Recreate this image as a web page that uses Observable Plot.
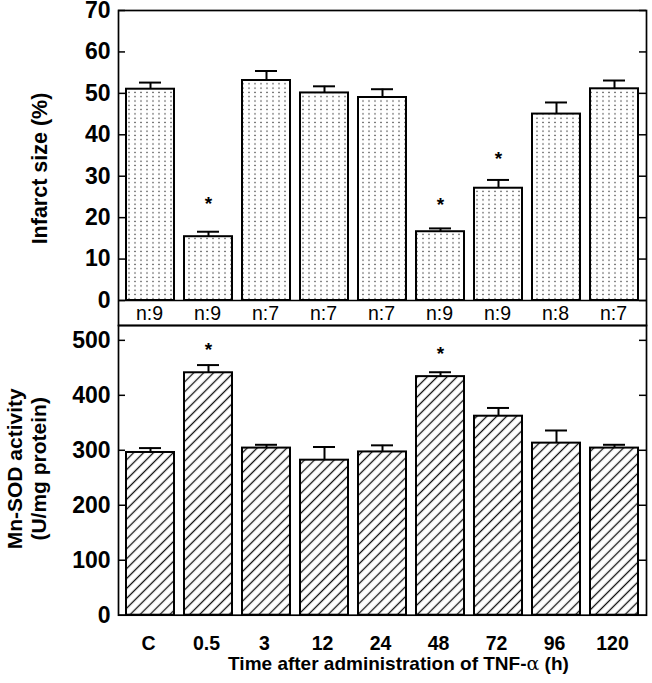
<!DOCTYPE html>
<html>
<head>
<meta charset="utf-8">
<script src="https://cdn.jsdelivr.net/npm/d3@7"></script>
<script src="https://cdn.jsdelivr.net/npm/@observablehq/plot@0.6"></script>
<style>
  body { margin: 0; background: white; }
  #wrap { position: relative; width: 652px; height: 683px; background: white; }
  #wrap > svg { position: absolute; left: 0; }
</style>
</head>
<body>
<svg width="0" height="0" style="position:absolute">
  <defs>
    <pattern id="dots" patternUnits="userSpaceOnUse" width="6" height="4.3">
      <rect width="6" height="4.3" fill="white"/>
      <rect x="2.4" y="1.5" width="1.2" height="1.2" fill="#1a1a1a"/>
    </pattern>
    <pattern id="hatch" patternUnits="userSpaceOnUse" width="7" height="10" patternTransform="rotate(45)">
      <rect width="7" height="10" fill="white"/>
      <line x1="3.5" y1="-1" x2="3.5" y2="11" stroke="#111" stroke-width="1.3"/>
    </pattern>
  </defs>
</svg>
<div id="wrap"></div>
<script>
// ---- data ----
const categories = ["C", "0.5", "3", "12", "24", "48", "72", "96", "120"];
const infarctSize = [51.0, 15.4, 53.1, 50.1, 49.0, 16.6, 27.1, 45.0, 51.1];
const infarctSem  = [1.6, 1.2, 2.3, 1.6, 2.0, 0.8, 2.0, 2.8, 2.0];
const nCounts     = [9, 9, 7, 7, 7, 9, 9, 8, 7];
const infarctStarCats = ["0.5", "48", "72"];
const infarctStarY    = [24.5, 24.2, 35.3];
const mnSod     = [296, 441, 304, 282, 297, 434, 362, 313, 304];
const mnSodSem  = [8, 14, 6, 24, 12, 8, 15, 23, 6];
const mnSodStarCats = ["0.5", "48"];
const mnSodStarY    = [492, 485];
const infarctTicks = [0, 10, 20, 30, 40, 50, 60, 70];
const mnSodTicks   = [0, 100, 200, 300, 400, 500];

const topData = categories.map((c, i) => ({cat: c, v: infarctSize[i], e: infarctSem[i], n: "n:" + nCounts[i]}));
const botData = categories.map((c, i) => ({cat: c, v: mnSod[i], e: mnSodSem[i]}));
const topStars = infarctStarCats.map((c, i) => ({cat: c, y: infarctStarY[i]}));
const botStars = mnSodStarCats.map((c, i) => ({cat: c, y: mnSodStarY[i]}));

const font = "'Liberation Sans', Arial, Helvetica, sans-serif";
const W = 652, ML = 118, MR = 6;
const frameW = W - ML - MR;
const tickLen = 7;
const xOpts = {domain: categories, paddingInner: 0.17, paddingOuter: 0.085};

const topPlot = Plot.plot({
  width: W, height: 327,
  marginLeft: ML, marginRight: MR, marginTop: 10, marginBottom: 27,
  x: {...xOpts, axis: null},
  y: {domain: [0, 70], axis: null},
  style: {fontFamily: font, background: "transparent", overflow: "visible"},
  marks: [
    Plot.barY(topData, {x: "cat", y: "v", fill: "url(#dots)", stroke: "black", strokeWidth: 2}),
    Plot.ruleX(topData, {x: "cat", y1: "v", y2: d => d.v + d.e, stroke: "black", strokeWidth: 2}),
    Plot.tickY(topData, {x: "cat", y: d => d.v + d.e, stroke: "black", strokeWidth: 2, insetLeft: 13, insetRight: 13}),
    Plot.text(topStars, {x: "cat", y: "y", text: () => "*", fontSize: 19, fontWeight: "bold", dy: 5}),
    Plot.text(topData, {x: "cat", y: () => 0, text: "n", fontSize: 19.5, dy: 13, dx: -1}),
    Plot.ruleY([0], {stroke: "black", strokeWidth: 1.7}),
    Plot.ruleY(infarctTicks, {stroke: "black", strokeWidth: 1.5, insetRight: frameW - tickLen}),
    Plot.ruleY(infarctTicks, {stroke: "black", strokeWidth: 1.5, insetLeft: frameW - tickLen}),
    Plot.frame({stroke: "black", strokeWidth: 1.7, insetBottom: -25}),
    Plot.axisY({ticks: infarctTicks, tickSize: 0, tickPadding: 8, fontSize: 23, fontWeight: "bold", label: null}),
    Plot.text(["Infarct size (%)"], {frameAnchor: "left", textAnchor: "middle", lineAnchor: "middle", rotate: -90, dx: -78, dy: 13, fontSize: 21.5, fontWeight: "bold"})
  ]
});
topPlot.style.top = "0px";

const botPlot = Plot.plot({
  width: W, height: 359,
  marginLeft: ML, marginRight: MR, marginTop: 1, marginBottom: 68.3,
  x: {...xOpts, axis: null},
  y: {domain: [0, 527], axis: null},
  style: {fontFamily: font, background: "transparent", overflow: "visible"},
  marks: [
    Plot.barY(botData, {x: "cat", y: "v", fill: "url(#hatch)", stroke: "black", strokeWidth: 2}),
    Plot.ruleX(botData, {x: "cat", y1: "v", y2: d => d.v + d.e, stroke: "black", strokeWidth: 2}),
    Plot.tickY(botData, {x: "cat", y: d => d.v + d.e, stroke: "black", strokeWidth: 2, insetLeft: 13, insetRight: 13}),
    Plot.text(botStars, {x: "cat", y: "y", text: () => "*", fontSize: 19, fontWeight: "bold", dy: 5}),
    Plot.ruleY(mnSodTicks, {stroke: "black", strokeWidth: 1.5, insetRight: frameW - tickLen}),
    Plot.ruleY(mnSodTicks, {stroke: "black", strokeWidth: 1.5, insetLeft: frameW - tickLen}),
    Plot.frame({stroke: "black", strokeWidth: 1.7}),
    Plot.axisY({ticks: mnSodTicks, tickSize: 0, tickPadding: 8, fontSize: 23, fontWeight: "bold", label: null}),
    Plot.axisX({tickSize: 0, tickPadding: 21, fontSize: 19.5, fontWeight: "bold", label: null, dx: -2}),
    Plot.text(["Mn-SOD activity\n(U/mg protein)"], {frameAnchor: "left", textAnchor: "middle", lineAnchor: "middle", rotate: -90, dx: -92, dy: -1.5, fontSize: 21, fontWeight: "bold", lineHeight: 1.12}),
    Plot.text(["Time after administration of TNF-α (h)"], {frameAnchor: "bottom", textAnchor: "middle", lineAnchor: "middle", dx: 16, dy: 49, fontSize: 19, fontWeight: "bold"})
  ]
});
botPlot.style.top = "324px";

const wrap = document.getElementById("wrap");
wrap.appendChild(topPlot);
wrap.appendChild(botPlot);

// render α in a symbol-like serif face as in the original
botPlot.querySelectorAll("text").forEach(t => {
  if (t.textContent.includes("α") && t.children.length === 0) {
    const s = t.textContent;
    const i = s.indexOf("α");
    t.textContent = s.slice(0, i);
    const ts = document.createElementNS("http://www.w3.org/2000/svg", "tspan");
    ts.setAttribute("font-family", "'DejaVu Serif', 'Liberation Serif', serif");
    ts.setAttribute("font-weight", "normal");
    ts.textContent = "α";
    t.appendChild(ts);
    t.appendChild(document.createTextNode(s.slice(i + 1)));
  }
});
</script>
</body>
</html>
